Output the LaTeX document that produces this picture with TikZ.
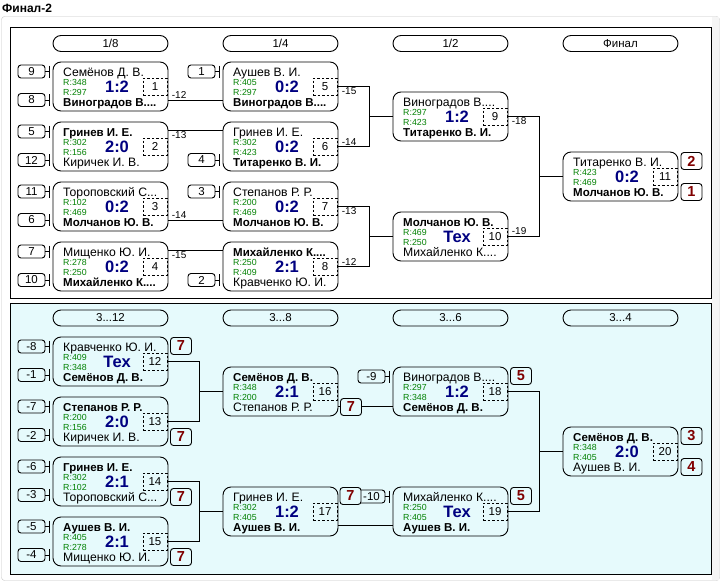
\documentclass[tikz,border=0pt]{standalone}
\usepackage{fontspec}
\setmainfont{Liberation Sans}
\usetikzlibrary{calc}
\definecolor{bgc}{RGB}{230,250,252}
\definecolor{rgreen}{RGB}{0,128,0}
\definecolor{navyc}{RGB}{0,0,128}
\definecolor{placered}{RGB}{128,0,0}
\newcommand\bn{\fontsize{11.5}{11.5}\selectfont\bfseries}
\tikzset{
 mbox/.style={draw, line width=0.9pt, rounded corners=8pt, minimum width=115pt, minimum height=49pt, inner sep=0pt},
 seedbox/.style={draw, line width=0.9pt, rounded corners=3pt, minimum width=27pt, minimum height=13pt, inner sep=0pt, font=\fontsize{11.5}{11.5}\selectfont},
 pill/.style={draw, line width=0.9pt, rounded corners=8pt, minimum width=115pt, minimum height=16pt, inner sep=0pt, font=\fontsize{11.5}{11.5}\selectfont},
 placebox/.style={draw, line width=0.9pt, rounded corners=3pt, minimum width=21pt, minimum height=17pt, inner sep=0pt, font=\fontsize{14.5}{14.5}\selectfont\bfseries, text=placered},
 idbox/.style={draw, dash pattern=on 2.5pt off 2pt, line width=0.8pt, minimum width=24pt, minimum height=17pt, inner sep=0pt, font=\fontsize{11.5}{11.5}\selectfont},
 nm/.style={anchor=base west, inner sep=0pt, font=\fontsize{12.2}{12.2}\selectfont},
 rt/.style={anchor=base west, inner sep=0pt, text=rgreen, font=\fontsize{8.8}{8.8}\selectfont},
 sc/.style={anchor=base, inner sep=0pt, text=navyc, font=\fontsize{16.5}{16.5}\selectfont\bfseries},
 lnk/.style={line width=0.9pt},
 lbla/.style={anchor=south west, inner sep=1pt, xshift=2pt, font=\fontsize{10}{10}\selectfont},
 lblb/.style={anchor=north west, inner sep=1pt, xshift=2pt, font=\fontsize{10}{10}\selectfont},
}
\newcommand\mtch[9]{%
 \node[mbox] (#1) at (#2+57.5,#3+24.5) {};
 \node[nm] (#1-a) at (#2+10,#3+14) {#4};
 \node[nm] (#1-b) at (#2+10,#3+44) {#5};
 \node[rt] (#1-r) at (#2+10,#3+23) {R:#6};
 \node[rt] (#1-s) at (#2+10,#3+33) {R:#7};
 \node[sc] (#1-c) at (#2+64,#3+30) {#8};
 \node[idbox] (#1-d) at (#2+102,#3+24.5) {#9};
}
\newcommand\seedlink[2]{%
 \draw[lnk] (#1.east) -- ($(#2.west|-#1.east)+(-3,0)$) ++(0,-6) -- ++(0,12);
}
\begin{document}
\begin{tikzpicture}[x=1pt,y=-1pt]
\useasboundingbox (0,0) rectangle (721,584);
\fill[white] (0,0) rectangle (721,584);
\draw[gray!45, fill=white, rounded corners=3pt] (1.5,16.5) rectangle (719.5,580.5);
\fill[gray!8] (712,17) rectangle (719,580);
\node[anchor=base west, inner sep=0pt, font=\fontsize{12}{12}\selectfont\bfseries] (title) at (2,12) {Финал-2};
% panels
\draw[line width=0.9pt, fill=white] (10,27) rectangle (711,298);
\draw[line width=0.9pt, fill=bgc] (10,303) rectangle (711,574);
% headers
\node[pill] (h1) at (110.5,43.5) {1/8};
\node[pill] (h2) at (280.5,43.5) {1/4};
\node[pill] (h3) at (450.5,43.5) {1/2};
\node[pill] (h4) at (620.5,43.5) {Финал};
\node[pill] (h5) at (110.5,318) {3...12};
\node[pill] (h6) at (280.5,318) {3...8};
\node[pill] (h7) at (450.5,318) {3...6};
\node[pill] (h8) at (620.5,318) {3...4};
% top matches
\mtch{m1}{53}{62}{Семёнов Д. В.}{\bn Виноградов В....}{348}{297}{1:2}{1}
\mtch{m2}{53}{122}{\bn Гринев И. Е.}{Киричек И. В.}{302}{156}{2:0}{2}
\mtch{m3}{53}{182}{Тороповский С...}{\bn Молчанов Ю. В.}{102}{469}{0:2}{3}
\mtch{m4}{53}{242}{Мищенко Ю. И.}{\bn Михайленко К....}{278}{250}{0:2}{4}
\mtch{m5}{223}{62}{Аушев В. И.}{\bn Виноградов В....}{405}{297}{0:2}{5}
\mtch{m6}{223}{122}{Гринев И. Е.}{\bn Титаренко В. И.}{302}{423}{0:2}{6}
\mtch{m7}{223}{182}{Степанов Р. Р.}{\bn Молчанов Ю. В.}{200}{469}{0:2}{7}
\mtch{m8}{223}{242}{\bn Михайленко К....}{Кравченко Ю. И.}{250}{409}{2:1}{8}
\mtch{m9}{393}{92}{Виноградов В....}{\bn Титаренко В. И.}{297}{423}{1:2}{9}
\mtch{m10}{393}{212}{\bn Молчанов Ю. В.}{Михайленко К....}{469}{250}{Тех}{10}
\mtch{m11}{563}{152}{Титаренко В. И.}{\bn Молчанов Ю. В.}{423}{469}{0:2}{11}
% bottom matches
\mtch{m12}{53}{337}{Кравченко Ю. И.}{\bn Семёнов Д. В.}{409}{348}{Тех}{12}
\mtch{m13}{53}{397}{\bn Степанов Р. Р.}{Киричек И. В.}{200}{156}{2:0}{13}
\mtch{m14}{53}{457}{\bn Гринев И. Е.}{Тороповский С...}{302}{102}{2:1}{14}
\mtch{m15}{53}{517}{\bn Аушев В. И.}{Мищенко Ю. И.}{405}{278}{2:1}{15}
\mtch{m16}{223}{367}{\bn Семёнов Д. В.}{Степанов Р. Р.}{348}{200}{2:1}{16}
\mtch{m17}{223}{487}{Гринев И. Е.}{\bn Аушев В. И.}{302}{405}{1:2}{17}
\mtch{m18}{393}{367}{Виноградов В....}{\bn Семёнов Д. В.}{297}{348}{1:2}{18}
\mtch{m19}{393}{487}{Михайленко К....}{\bn Аушев В. И.}{250}{405}{Тех}{19}
\mtch{m20}{563}{427}{\bn Семёнов Д. В.}{Аушев В. И.}{348}{405}{2:0}{20}
% seeds top
\node[seedbox] (s9) at (31.5,71.5) {9};
\node[seedbox] (s8) at (31.5,100) {8};
\node[seedbox] (s5) at (31.5,131.5) {5};
\node[seedbox] (s12) at (31.5,160) {12};
\node[seedbox] (s11) at (31.5,191.5) {11};
\node[seedbox] (s6) at (31.5,220) {6};
\node[seedbox] (s7) at (31.5,251.5) {7};
\node[seedbox] (s10) at (31.5,280) {10};
\node[seedbox] (s1) at (201.5,71.5) {1};
\node[seedbox] (s4) at (201.5,160) {4};
\node[seedbox] (s3) at (201.5,191.5) {3};
\node[seedbox] (s2) at (201.5,280) {2};
\seedlink{s9}{m1}\seedlink{s8}{m1}
\seedlink{s5}{m2}\seedlink{s12}{m2}
\seedlink{s11}{m3}\seedlink{s6}{m3}
\seedlink{s7}{m4}\seedlink{s10}{m4}
\seedlink{s1}{m5}\seedlink{s4}{m6}
\seedlink{s3}{m7}\seedlink{s2}{m8}
% seeds bottom
\node[seedbox] (b8) at (31.5,346.5) {-8};
\node[seedbox] (b1) at (31.5,375) {-1};
\node[seedbox] (b7) at (31.5,406.5) {-7};
\node[seedbox] (b2) at (31.5,435) {-2};
\node[seedbox] (b6) at (31.5,466.5) {-6};
\node[seedbox] (b3) at (31.5,495) {-3};
\node[seedbox] (b5) at (31.5,526.5) {-5};
\node[seedbox] (b4) at (31.5,555) {-4};
\seedlink{b8}{m12}\seedlink{b1}{m12}
\seedlink{b7}{m13}\seedlink{b2}{m13}
\seedlink{b6}{m14}\seedlink{b3}{m14}
\seedlink{b5}{m15}\seedlink{b4}{m15}
% top connectors
\draw[lnk] ([yshift=-13.5pt]m1.east) node[lbla]{-12} -- ([yshift=-13.5pt]m5.west);
\draw[lnk] ([yshift=16.5pt]m2.east) node[lblb]{-13} -- ([yshift=16.5pt]m6.west);
\draw[lnk] ([yshift=-13.5pt]m3.east) node[lbla]{-14} -- ([yshift=-13.5pt]m7.west);
\draw[lnk] ([yshift=16.5pt]m4.east) node[lblb]{-15} -- ([yshift=16.5pt]m8.west);
\draw[lnk] (m5.east) node[lblb]{-15} -| ([xshift=-23pt]m9.west) -- (m9.west);
\draw[lnk] (m6.east) node[lbla]{-14} -| ([xshift=-23pt]m9.west);
\draw[lnk] (m7.east) node[lblb]{-13} -| ([xshift=-23pt]m10.west) -- (m10.west);
\draw[lnk] (m8.east) node[lbla]{-12} -| ([xshift=-23pt]m10.west);
\draw[lnk] (m9.east) node[lblb]{-18} -| ([xshift=-23pt]m11.west) -- (m11.west);
\draw[lnk] (m10.east) node[lbla]{-19} -| ([xshift=-23pt]m11.west);
% bottom connectors
\draw[lnk] (m12.east) -| ([xshift=-23pt]m16.west) -- (m16.west);
\draw[lnk] (m13.east) -| ([xshift=-23pt]m16.west);
\draw[lnk] (m14.east) -| ([xshift=-23pt]m17.west) -- (m17.west);
\draw[lnk] (m15.east) -| ([xshift=-23pt]m17.west);
\draw[lnk] ([yshift=-14.5pt]m16.east) -- ([yshift=-14.5pt]m18.west);
\draw[lnk] ([yshift=-13.5pt]m17.east) -- ([yshift=-13.5pt]m19.west);
\draw[lnk] (m18.east) -| ([xshift=-23pt]m20.west) -- (m20.west);
\draw[lnk] (m19.east) -| ([xshift=-23pt]m20.west);
\node[seedbox] (b9) at (371.5,376.5) {-9};
\node[seedbox] (b10) at (371.5,496.5) {-10};
\seedlink{b9}{m18}\seedlink{b10}{m19}
% place boxes
\node[placebox, fill=white] (p11a) at (691.5,161) {2};
\node[placebox, fill=white] (p11b) at (691.5,192) {1};
\node[placebox, fill=bgc] (p12) at (181,346) {7};
\node[placebox, fill=bgc] (p13) at (181,437) {7};
\node[placebox, fill=bgc] (p14) at (181,497) {7};
\node[placebox, fill=bgc] (p15) at (181,557) {7};
\node[placebox, fill=bgc] (p16) at (351,407) {7};
\node[placebox, fill=bgc] (p17) at (350.5,496) {7};
\node[placebox, fill=bgc] (p18) at (521,376) {5};
\node[placebox, fill=bgc] (p19) at (521,496) {5};
\node[placebox, fill=bgc] (p20a) at (691.5,436) {3};
\node[placebox, fill=bgc] (p20b) at (691.5,467) {4};
\end{tikzpicture}
\end{document}
